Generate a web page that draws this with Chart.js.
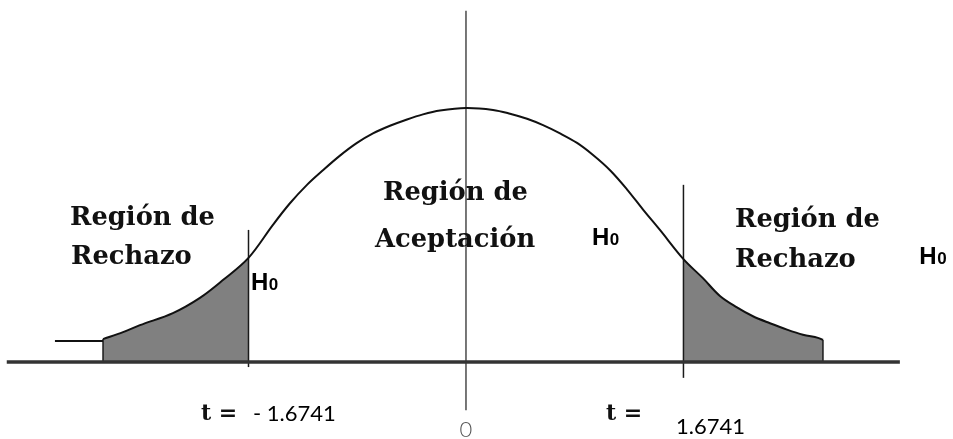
<!DOCTYPE html>
<html>
<head>
<meta charset="utf-8">
<script src="https://cdn.jsdelivr.net/npm/chart.js@4.4.1/dist/chart.umd.min.js"></script>
<style>
  html, body { margin: 0; padding: 0; background: #ffffff; }
  #wrap { width: 953px; height: 439px; position: relative; }
</style>
</head>
<body>
<div id="wrap"><canvas id="c"></canvas></div>
<script>
// ---- data (t value, curve height) ----
const curveT = [-2.794, -2.640, -2.510, -2.256, -2.048, -1.871, -1.6741, -1.486, -1.355, -1.224, -1.101, -0.970, -0.839, -0.716, -0.585, -0.454, -0.331, -0.200, 0,
                0.208, 0.339, 0.470, 0.593, 0.724, 0.855, 0.978, 1.109, 1.239, 1.363, 1.493, 1.6741, 1.824, 1.955, 2.086, 2.209, 2.340, 2.471, 2.594, 2.710, 2.748];
const curveY = [0.036, 0.047, 0.058, 0.077, 0.101, 0.129, 0.164, 0.216, 0.250, 0.279, 0.302, 0.325, 0.345, 0.360, 0.372, 0.382, 0.390, 0.396, 0.400,
                0.397, 0.391, 0.383, 0.373, 0.360, 0.345, 0.326, 0.302, 0.272, 0.240, 0.208, 0.162, 0.132, 0.104, 0.086, 0.072, 0.061, 0.051, 0.043, 0.038, 0.035];
const leftStubT = [-3.164, -2.794];
const leftStubY = [0.033, 0.033];
const criticalT = [-1.6741, 1.6741];
const criticalLabels = ['- 1.6741', '1.6741'];
const centerLabel = '0';
const baselineT = [-3.535, 3.340];
const regionLabels = ['Región de', 'Rechazo', 'Aceptación'];
const hypothesisLabel = 'H';
const hypothesisSub = '0';
const statLabel = 't =';

// ---- helpers ----
const pts = (xs, ys) => xs.map((v, i) => ({ x: v, y: ys[i] }));
const curvePts = pts(curveT, curveY);
const leftTail = curvePts.filter(p => p.x <= criticalT[0] + 1e-9);
const rightTail = curvePts.filter(p => p.x >= criticalT[1] - 1e-9);
const vline = (t, y0, y1) => [{ x: t, y: y0 }, { x: t, y: y1 }];

const lineDs = (data, color, width, order) => ({
  data, borderColor: color, borderWidth: width, showLine: true, fill: false,
  pointRadius: 0, order, tension: 0
});

const datasets = [
  { ...lineDs(curvePts, '#111111', 2, 1), tension: 0.35 },
  lineDs(pts(leftStubT, leftStubY), '#111111', 2, 2),
  lineDs(vline(criticalT[0], -0.008, 0.208), '#1a1a1a', 1.5, 3),
  lineDs(vline(0, -0.076, 0.553), '#4a4a4a', 1.5, 3),
  lineDs(vline(criticalT[1], -0.025, 0.279), '#1a1a1a', 1.5, 3),
  lineDs(vline(curveT[0], 0, curveY[0]), '#1a1a1a', 1.5, 3),
  lineDs(vline(curveT[curveT.length - 1], 0, curveY[curveY.length - 1]), '#1a1a1a', 1.5, 3),
  lineDs(pts(baselineT, [0, 0]), '#333333', 3.5, 2),
  { data: leftTail, showLine: true, borderWidth: 0, borderColor: 'rgba(0,0,0,0)', backgroundColor: '#808080',
    fill: 'origin', pointRadius: 0, order: 10, tension: 0.35 },
  { data: rightTail, showLine: true, borderWidth: 0, borderColor: 'rgba(0,0,0,0)', backgroundColor: '#808080',
    fill: 'origin', pointRadius: 0, order: 10, tension: 0.35 }
];

// text annotations (data coordinates)
const serifTexts = [
  { text: regionLabels[0], x: -3.048, y: 0.216 },
  { text: regionLabels[1], x: -3.040, y: 0.154 },
  { text: regionLabels[0], x: -0.639, y: 0.255 },
  { text: regionLabels[2], x: -0.700, y: 0.181 },
  { text: regionLabels[0], x: 2.071, y: 0.213 },
  { text: regionLabels[1], x: 2.071, y: 0.150 }
];
const hTexts = [
  { x: -1.655, y: 0.113 },
  { x: 0.970, y: 0.184 },
  { x: 3.490, y: 0.154 }
];
const statTexts = [
  { x: -2.040, y: -0.091 },
  { x: 1.078, y: -0.091 }
];
const critTexts = [
  { text: criticalLabels[0], x: -1.640, y: -0.093 },
  { text: criticalLabels[1], x: 1.617, y: -0.113 }
];

const textPlugin = {
  id: 'texts',
  afterDatasetsDraw(chart) {
    const { ctx } = chart;
    const sx = chart.scales.x, sy = chart.scales.y;
    const X = v => sx.getPixelForValue(v), Y = v => sy.getPixelForValue(v);
    ctx.save();
    ctx.textBaseline = 'alphabetic';
    ctx.textAlign = 'left';
    // serif region labels, sized so "Región de" is ~145px wide
    ctx.font = 'bold 25px "DejaVu Serif"';
    const w = ctx.measureText(regionLabels[0]).width;
    const size = 25 * 145 / w;
    ctx.font = `bold ${size.toFixed(2)}px "DejaVu Serif"`;
    ctx.fillStyle = '#111111';
    serifTexts.forEach(t => ctx.fillText(t.text, X(t.x), Y(t.y)));
    // t = labels
    ctx.font = 'bold 22px "DejaVu Serif"';
    statTexts.forEach(t => ctx.fillText(statLabel, X(t.x), Y(t.y)));
    // critical values
    ctx.font = '22px Lato, "Liberation Sans", sans-serif';
    ctx.fillStyle = '#000000';
    critTexts.forEach(t => ctx.fillText(t.text, X(t.x), Y(t.y)));
    // zero
    ctx.font = '300 22px Lato, "Liberation Sans", sans-serif';
    ctx.fillStyle = '#555555';
    ctx.textAlign = 'center';
    ctx.fillText(centerLabel, X(0), Y(-0.118));
    // H0 labels
    ctx.textAlign = 'left';
    ctx.fillStyle = '#000000';
    hTexts.forEach(t => {
      ctx.font = 'bold 24px "Liberation Sans", Arial, sans-serif';
      const px = X(t.x), py = Y(t.y);
      ctx.fillText(hypothesisLabel, px, py);
      const hw = ctx.measureText(hypothesisLabel).width;
      ctx.font = 'bold 17px "Liberation Sans", Arial, sans-serif';
      ctx.fillText(hypothesisSub, px + hw + 0.5, py);
    });
    ctx.restore();
  }
};

new Chart(document.getElementById('c'), {
  type: 'scatter',
  data: { datasets },
  options: {
    responsive: true,
    maintainAspectRatio: false,
    animation: false,
    layout: { padding: 0 },
    plugins: { legend: { display: false }, tooltip: { enabled: false } },
    scales: {
      x: { type: 'linear', min: -3.587, max: 3.749, display: false },
      y: { type: 'linear', min: -0.1213, max: 0.5701, display: false }
    }
  },
  plugins: [textPlugin]
});
</script>
</body>
</html>
